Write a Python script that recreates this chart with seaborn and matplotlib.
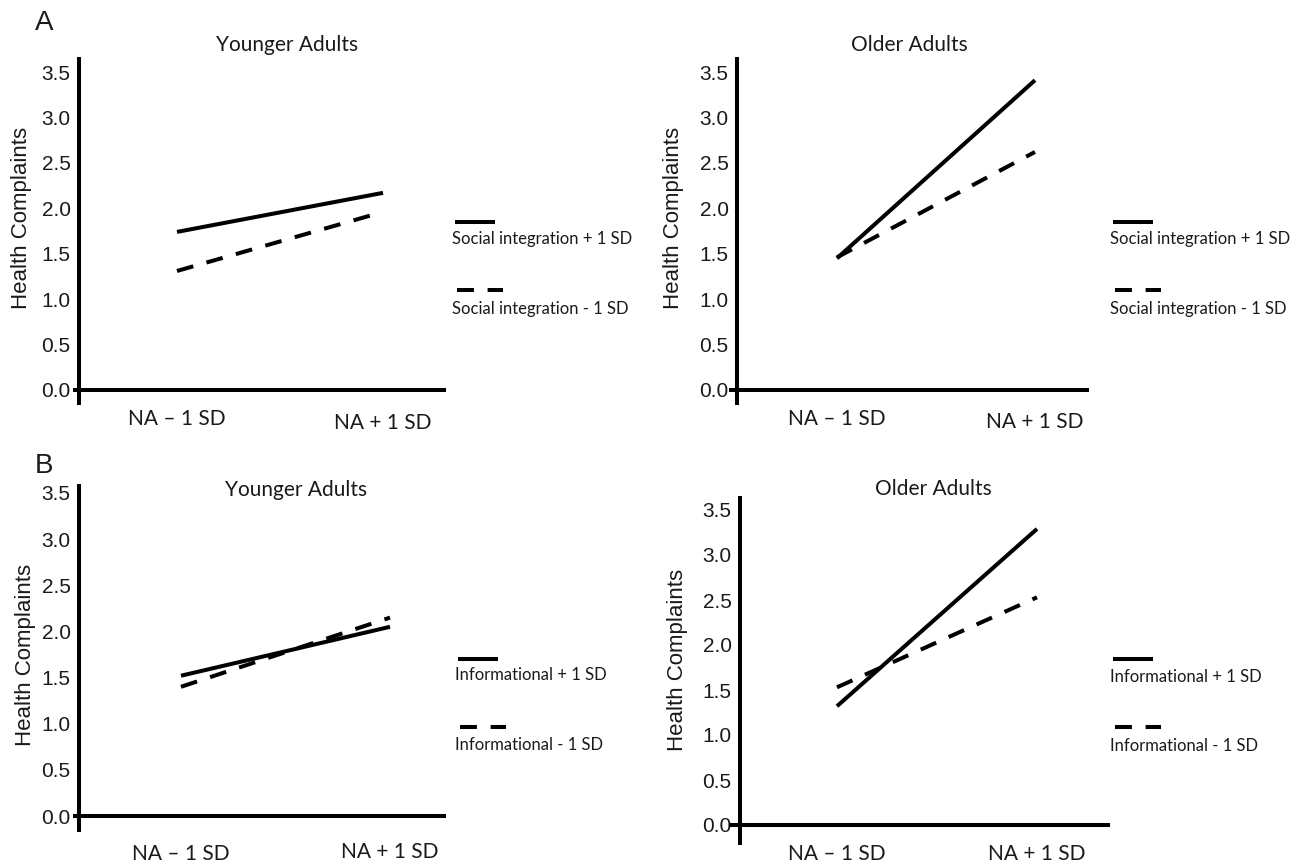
import pandas as pd
import matplotlib
matplotlib.use("Agg")
import matplotlib.pyplot as plt
from matplotlib.lines import Line2D
import seaborn as sns

# Valores (Health Complaints)
na_levels = ["NA \u2013 1 SD", "NA + 1 SD"]
young_social_high = [1.74, 2.17]
young_social_low = [1.31, 1.96]
old_social_high = [1.45, 3.41]
old_social_low = [1.46, 2.62]
young_info_high = [1.52, 2.05]
young_info_low = [1.40, 2.15]
old_info_high = [1.32, 3.29]
old_info_low = [1.53, 2.53]
y_ticks = [0.0, 0.5, 1.0, 1.5, 2.0, 2.5, 3.0, 3.5]

social_labels = ["Social integration + 1 SD", "Social integration - 1 SD"]
info_labels = ["Informational + 1 SD", "Informational - 1 SD"]

sns.set_style("white")
plt.rcParams["font.family"] = ["Liberation Sans", "DejaVu Sans"]

W, H = 1296, 864
fig = plt.figure(figsize=(W / 100, H / 100), dpi=100)
LW = 2.9
DASH = (0, (4.2, 3.4))
TXT = "#1a1a1a"
CAL = ["Lato", "DejaVu Sans"]


def fx(x):
    return x / W


def fy(y):
    return 1 - y / H


# caixa em pixels, posições de x=0/1 e y=0/3.5 em pixels, posição do eixo y
panels = [
    dict(box=(75, 59, 444, 403), xpx=(177, 383), ypx=(390, 72), spine=79,
         title="Younger Adults", tpos=(287, 45), lpos=(22, 218), xoff=(28, 32),
         high=young_social_high, low=young_social_low, labels=social_labels,
         leg=(452, 222, 239, 290, 309)),
    dict(box=(731, 59, 1087, 403), xpx=(837, 1035), ypx=(390, 72), spine=737,
         title="Older Adults", tpos=(909, 45), lpos=(673, 218), xoff=(28, 31),
         high=old_social_high, low=old_social_low, labels=social_labels,
         leg=(1110, 222, 239, 290, 309)),
    dict(box=(75, 486, 444, 830), xpx=(181, 390), ypx=(816, 493), spine=79,
         title="Younger Adults", tpos=(296, 490), lpos=(25, 655), xoff=(37, 35),
         high=young_info_high, low=young_info_low, labels=info_labels,
         leg=(455, 659, 675, 727, 745)),
    dict(box=(731, 498, 1108, 843), xpx=(837, 1037), ypx=(825, 510), spine=740,
         title="Older Adults", tpos=(933, 489), lpos=(677, 660), xoff=(28, 28),
         high=old_info_high, low=old_info_low, labels=info_labels,
         leg=(1110, 659, 677, 727, 746)),
]

for p in panels:
    left, top, right, bottom = p["box"]
    ax = fig.add_axes([fx(left), fy(bottom), (right - left) / W, (bottom - top) / H])
    ax.set_facecolor("none")

    df = pd.DataFrame({
        "pos": [0, 1, 0, 1],
        "valor": p["high"] + p["low"],
        "nivel": ["high", "high", "low", "low"],
    })
    sns.lineplot(data=df, x="pos", y="valor", style="nivel",
                 dashes={"high": "", "low": DASH[1]}, color="black",
                 linewidth=LW, legend=False, ax=ax)
    for ln in ax.get_lines():
        ln.set_solid_capstyle("butt")
        ln.set_dash_capstyle("butt")

    x0, x1 = p["xpx"]
    ppx = x1 - x0
    y0, y35 = p["ypx"]
    ppu = (y0 - y35) / 3.5
    ax.set_xlim((left - x0) / ppx, (right - x0) / ppx)
    ax.set_ylim((y0 - bottom) / ppu, (y0 - top) / ppu)

    for s in ["top", "right"]:
        ax.spines[s].set_visible(False)
    ax.spines["left"].set_position(("data", (p["spine"] - x0) / ppx))
    ax.spines["bottom"].set_position(("data", 0))
    for s in ["left", "bottom"]:
        ax.spines[s].set_linewidth(LW)
        ax.spines[s].set_color("black")

    ax.set_yticks(y_ticks)
    ax.set_yticklabels([f"{v:.1f}" for v in y_ticks])
    ax.set_xticks([0, 1])
    ax.set_xticklabels(na_levels, family=CAL)
    ax.tick_params(axis="y", length=0, pad=6, labelsize=15, colors=TXT)
    ax.tick_params(axis="x", length=0, labelsize=15, colors=TXT)
    for tk, off in zip(ax.xaxis.get_major_ticks(), p["xoff"]):
        tk.set_pad((off - 9) / 1.389)
    ax.set_xlabel("")
    ax.set_ylabel("Health Complaints", fontsize=16, color=TXT, va="center")
    ax.yaxis.set_label_coords((p["lpos"][0] - left) / (right - left),
                              (bottom - p["lpos"][1]) / (bottom - top))

    fig.text(fx(p["tpos"][0]), fy(p["tpos"][1]), p["title"], ha="center", va="center",
             fontsize=15, family=CAL, color=TXT)

    # legenda: amostra de linha acima do texto
    lx, ys, yt_s, yd, yt_d = p["leg"]
    fig.add_artist(Line2D([fx(lx + 3), fx(lx + 43)], [fy(ys), fy(ys)], color="black",
                          linewidth=LW, solid_capstyle="butt", transform=fig.transFigure))
    fig.add_artist(Line2D([fx(lx + 5), fx(lx + 51)], [fy(yd), fy(yd)], color="black",
                          linewidth=LW, linestyle=DASH, dash_capstyle="butt",
                          transform=fig.transFigure))
    fig.text(fx(lx), fy(yt_s), p["labels"][0], ha="left", va="center",
             fontsize=12, family=CAL, color=TXT)
    fig.text(fx(lx), fy(yt_d), p["labels"][1], ha="left", va="center",
             fontsize=12, family=CAL, color=TXT)

fig.text(fx(44), fy(23), "A", ha="center", va="center", fontsize=20, color=TXT)
fig.text(fx(44), fy(466), "B", ha="center", va="center", fontsize=20, color=TXT)

plt.savefig("out.png", dpi=100)
